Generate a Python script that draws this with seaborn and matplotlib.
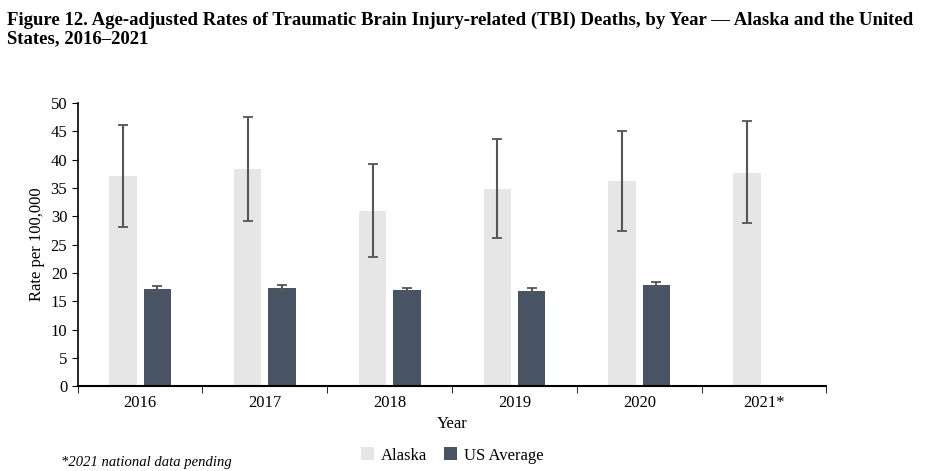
import matplotlib
matplotlib.use("Agg")
import matplotlib.pyplot as plt
import seaborn as sns
import pandas as pd
import numpy as np

years = ["2016", "2017", "2018", "2019", "2020", "2021*"]
alaska = [37.2, 38.4, 31.0, 34.9, 36.2, 37.7]
alaska_lo = [28.2, 29.2, 22.8, 26.2, 27.4, 28.8]
alaska_hi = [46.2, 47.6, 39.2, 43.6, 45.0, 46.8]
us = [17.2, 17.4, 17.0, 16.8, 17.9, np.nan]
us_lo = [16.6, 16.9, 16.5, 16.4, 17.6, np.nan]
us_hi = [17.7, 17.9, 17.4, 17.3, 18.4, np.nan]

df = pd.DataFrame({
    "Year": years * 2,
    "Rate": alaska + us,
    "lo": alaska_lo + us_lo,
    "hi": alaska_hi + us_hi,
    "Series": ["Alaska"] * 6 + ["US Average"] * 6,
})

plt.rcParams["font.family"] = "Liberation Serif"
fig = plt.figure(figsize=(9.36, 4.71), dpi=100)
ax = fig.add_axes([0.083, 0.18, 0.8, 0.601])

sns.barplot(data=df, x="Year", y="Rate", hue="Series",
            palette=["#e6e6e6", "#435269"], width=0.55, gap=0.2,
            errorbar=None, ax=ax, legend=True)

# error bars at bar centres
for cont, ser in zip(ax.containers, ["Alaska", "US Average"]):
    sub = df[df["Series"] == ser]
    for patch, (_, row) in zip(cont.patches, sub.iterrows()):
        if np.isnan(row["Rate"]):
            continue
        xc = patch.get_x() + patch.get_width() / 2
        ax.errorbar(xc, row["Rate"],
                    yerr=[[row["Rate"] - row["lo"]], [row["hi"] - row["Rate"]]],
                    color="#555555", capsize=3.5, elinewidth=1.5, capthick=1.3)

ax.set_ylim(0, 50)
ax.set_yticks(range(0, 51, 5))
ax.set_xlim(-0.5, 5.5)
ax.set_xticks(np.arange(-0.5, 6, 1), minor=True)
ax.tick_params(axis="x", which="major", length=0, labelsize=12, pad=6)
ax.tick_params(axis="x", which="minor", length=5, direction="out")
ax.tick_params(axis="y", labelsize=12, length=4, direction="out")
ax.set_xlabel("Year", fontsize=12)
ax.set_ylabel("Rate per 100,000", fontsize=12)
for s in ["top", "right"]:
    ax.spines[s].set_visible(False)
ax.spines["bottom"].set_linewidth(1.5)
ax.spines["left"].set_linewidth(1.2)

ax.legend(loc="upper center", bbox_to_anchor=(0.5, -0.175), ncol=2, frameon=False,
          fontsize=12, handlelength=0.8, handleheight=0.8, columnspacing=1.0,
          handletextpad=0.4, borderpad=0.2)

fig.text(0.008, 0.975, "Figure 12. Age-adjusted Rates of Traumatic Brain Injury-related (TBI) Deaths, by Year \u2014 Alaska and the United\nStates, 2016\u20132021",
         fontsize=13.5, fontweight="bold", va="top", linespacing=1.1)
fig.text(0.065, 0.01, "*2021 national data pending", fontsize=10.5, style="italic")

fig.savefig("out.png", dpi=100)
